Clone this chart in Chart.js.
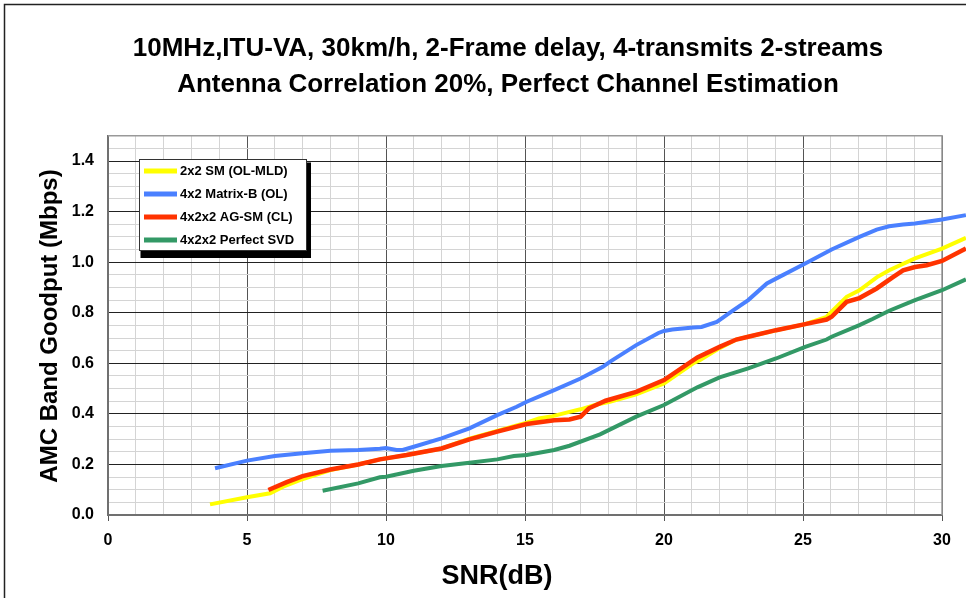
<!DOCTYPE html>
<html>
<head>
<meta charset="utf-8">
<script src="https://cdn.jsdelivr.net/npm/chart.js@4.4.0/dist/chart.umd.min.js"></script>
<style>
  html, body { margin: 0; padding: 0; background: #fff; overflow: hidden; }
  #wrap { width: 1016px; height: 598px; }
</style>
</head>
<body>
<div id="wrap"><canvas id="chart" width="1016" height="598"></canvas></div>
<script>
const FONT = 'Liberation Sans, Arial, Helvetica, sans-serif';

const titleLines = [
  '10MHz,ITU-VA, 30km/h, 2-Frame delay, 4-transmits 2-streams',
  'Antenna Correlation 20%, Perfect Channel Estimation'
];
const xTitle = 'SNR(dB)';
const yTitle = 'AMC Band Goodput (Mbps)';

const seriesNames = ['2x2 SM (OL-MLD)', '4x2 Matrix-B (OL)', '4x2x2 AG-SM (CL)', '4x2x2 Perfect SVD'];
const seriesColors = ['#FFFF00', '#4A80FF', '#FF3300', '#339966'];

// 2x2 SM (OL-MLD)
const snrSM = [3.67, 5.0, 5.83, 6.3, 6.9, 8.0, 9.0, 9.78, 10.0, 10.74, 12.0, 13.0, 14.0, 15.06, 15.5, 16.0, 16.6, 17.0, 17.58, 18.05, 19.0, 20.0, 21.05, 21.3, 22.0, 22.6, 23.03, 24.03, 25.08, 25.85, 26.57, 27.03, 27.65, 28.1, 29.03, 30.0, 30.86];
const gpSM  = [0.042, 0.07, 0.086, 0.112, 0.138, 0.178, 0.2, 0.22, 0.224, 0.237, 0.263, 0.302, 0.333, 0.365, 0.382, 0.391, 0.408, 0.418, 0.437, 0.448, 0.477, 0.52, 0.6, 0.613, 0.66, 0.694, 0.705, 0.731, 0.755, 0.784, 0.863, 0.889, 0.94, 0.968, 1.015, 1.054, 1.096];

// 4x2 Matrix-B (OL)
const snrMB = [3.85, 5.0, 6.0, 7.0, 8.0, 9.0, 9.78, 10.0, 10.38, 10.6, 11.0, 12.0, 13.0, 14.0, 14.7, 15.06, 16.05, 17.0, 17.8, 18.05, 19.0, 19.8, 20.0, 20.3, 21.05, 21.35, 21.9, 22.5, 23.03, 23.7, 24.03, 25.08, 26.03, 27.03, 27.65, 28.1, 28.6, 29.03, 30.0, 30.86];
const gpMB  = [0.185, 0.215, 0.233, 0.244, 0.254, 0.257, 0.262, 0.265, 0.257, 0.257, 0.27, 0.303, 0.343, 0.395, 0.428, 0.448, 0.494, 0.54, 0.586, 0.606, 0.672, 0.72, 0.728, 0.734, 0.742, 0.744, 0.764, 0.81, 0.85, 0.916, 0.935, 0.995, 1.05, 1.1, 1.129, 1.142, 1.149, 1.153, 1.169, 1.186];

// 4x2x2 AG-SM (CL)
const snrAG = [5.77, 6.43, 7.0, 8.0, 9.0, 9.78, 10.0, 10.74, 12.0, 13.0, 14.0, 15.06, 16.05, 16.6, 17.0, 17.3, 17.9, 19.0, 20.0, 21.2, 22.0, 22.6, 23.03, 24.03, 25.08, 25.85, 26.03, 26.57, 27.03, 27.65, 28.25, 28.6, 29.03, 29.45, 30.0, 30.86];
const gpAG  = [0.099, 0.13, 0.154, 0.18, 0.2, 0.22, 0.224, 0.237, 0.263, 0.299, 0.33, 0.36, 0.375, 0.378, 0.389, 0.422, 0.452, 0.487, 0.534, 0.623, 0.665, 0.694, 0.705, 0.731, 0.755, 0.773, 0.784, 0.843, 0.858, 0.896, 0.942, 0.968, 0.981, 0.988, 1.005, 1.054];

// 4x2x2 Perfect SVD
const snrSVD = [7.72, 9.0, 9.78, 10.0, 11.0, 12.0, 13.0, 14.0, 14.6, 15.06, 16.05, 16.6, 17.7, 19.0, 20.0, 21.2, 22.0, 23.03, 24.03, 25.08, 25.85, 26.03, 27.03, 27.5, 28.1, 29.03, 30.0, 30.86];
const gpSVD  = [0.096, 0.125, 0.149, 0.151, 0.175, 0.194, 0.207, 0.22, 0.233, 0.237, 0.257, 0.274, 0.319, 0.389, 0.435, 0.505, 0.544, 0.58, 0.619, 0.665, 0.694, 0.705, 0.751, 0.775, 0.808, 0.85, 0.889, 0.932];

const xTicks = [0, 5, 10, 15, 20, 25, 30];
const yTicks = [0, 0.2, 0.4, 0.6, 0.8, 1.0, 1.2, 1.4];

const isMajor = (list, v) => list.some(t => Math.abs(t - v) < 1e-6);
const toPoints = (xs, ys) => xs.map((x, i) => ({ x: x, y: ys[i] }));

const allX = [snrSM, snrMB, snrAG, snrSVD];
const allY = [gpSM, gpMB, gpAG, gpSVD];
const drawOrder = [2, 1, 0, 1];  // red sits over yellow

const datasets = seriesNames.map((name, i) => ({
  label: name,
  data: toPoints(allX[i], allY[i]),
  borderColor: seriesColors[i],
  backgroundColor: seriesColors[i],
  borderWidth: i === 2 ? 4.5 : 4,
  pointRadius: 0,
  tension: 0,
  clip: false,
  order: drawOrder[i]
}));

// white page + outer frame (chart is cropped on the right and bottom)
const framePlugin = {
  id: 'frame',
  beforeDraw(chart) {
    const ctx = chart.ctx;
    ctx.save();
    ctx.fillStyle = '#fff';
    ctx.fillRect(0, 0, chart.width, chart.height);
    ctx.strokeStyle = '#222';
    ctx.lineWidth = 1.5;
    ctx.strokeRect(4.5, 4.5, chart.width - 9, chart.height + 20);
    ctx.restore();
  }
};

const plotBorder = {
  id: 'plotBorder',
  beforeDatasetsDraw(chart) {
    const { ctx, chartArea: a } = chart;
    ctx.save();
    ctx.strokeStyle = '#999';
    ctx.lineWidth = 1.5;
    ctx.beginPath();
    ctx.moveTo(a.left, a.top);
    ctx.lineTo(a.right, a.top);
    ctx.lineTo(a.right, a.bottom);
    ctx.stroke();
    ctx.restore();
  }
};

const axisTitles = {
  id: 'axisTitles',
  afterDraw(chart) {
    const ctx = chart.ctx;
    ctx.save();
    ctx.fillStyle = '#000';
    ctx.textAlign = 'center';
    ctx.textBaseline = 'middle';
    ctx.font = 'bold 27px ' + FONT;
    ctx.fillText(xTitle, 497, 577);
    ctx.translate(50, 326);
    ctx.rotate(-Math.PI / 2);
    ctx.font = 'bold 24px ' + FONT;
    ctx.fillText(yTitle, 0, 0);
    ctx.restore();
  }
};

const boxLegend = {
  id: 'boxLegend',
  afterDraw(chart) {
    const ctx = chart.ctx;
    const bx = 139.5, by = 159.5, bw = 167, bh = 91;
    ctx.save();
    ctx.fillStyle = '#000';
    ctx.fillRect(bx + 1, by + 3, bw + 3.5, bh + 4.5);
    ctx.fillStyle = '#fff';
    ctx.fillRect(bx, by, bw, bh);
    ctx.strokeStyle = '#333';
    ctx.lineWidth = 1;
    ctx.strokeRect(bx, by, bw, bh);
    ctx.font = 'bold 13px ' + FONT;
    ctx.textBaseline = 'middle';
    chart.data.datasets.forEach((ds, i) => {
      const y = 171 + i * 23;
      ctx.strokeStyle = ds.borderColor;
      ctx.lineWidth = 5;
      ctx.beginPath();
      ctx.moveTo(144, y);
      ctx.lineTo(177, y);
      ctx.stroke();
      ctx.fillStyle = '#000';
      ctx.fillText(ds.label, 180, y + 0.5);
    });
    ctx.restore();
  }
};

new Chart(document.getElementById('chart'), {
  type: 'line',
  data: { datasets: datasets },
  plugins: [framePlugin, plotBorder, axisTitles, boxLegend],
  options: {
    responsive: false,
    animation: false,
    layout: { padding: 0 },
    plugins: {
      legend: { display: false },
      tooltip: { enabled: false },
      title: {
        display: true,
        text: titleLines,
        color: '#000',
        font: { family: FONT, size: 26, weight: 'bold', lineHeight: 1.38 },
        padding: { top: 31, bottom: 33 }
      }
    },
    scales: {
      x: {
        type: 'linear',
        bounds: 'data',
        // bounds set here (not via min/max) so the curves run on past 30 dB like the original
        afterDataLimits: s => { s.min = 0; s.max = 30; },
        afterFit: s => { s.height = 83; },
        afterBuildTicks: s => {
          const t = [];
          for (let v = 0; v <= 30; v++) t.push({ value: v });
          s.ticks = t;
        },
        ticks: {
          autoSkip: false,
          maxRotation: 0,
          padding: 10,
          color: '#000',
          font: { family: FONT, size: 16, weight: 'bold' },
          callback: v => isMajor(xTicks, v) ? String(Math.round(v)) : ''
        },
        grid: {
          color: c => isMajor(xTicks, c.tick.value) ? '#555' : '#d4d4d4',
          tickColor: c => isMajor(xTicks, c.tick.value) ? '#555' : 'rgba(0,0,0,0)',
          tickLength: 6,
          lineWidth: 1
        },
        border: { color: '#707070', width: 2 }
      },
      y: {
        type: 'linear',
        min: 0,
        max: 1.5,
        afterFit: s => { s.width = 108; },
        afterBuildTicks: s => {
          const t = [];
          for (let k = 0; k <= 30; k++) t.push({ value: +(k * 0.05).toFixed(2) });
          s.ticks = t;
        },
        ticks: {
          autoSkip: false,
          padding: 14,
          color: '#000',
          font: { family: FONT, size: 16, weight: 'bold' },
          callback: v => isMajor(yTicks, v) ? v.toFixed(1) : ''
        },
        grid: {
          color: c => isMajor(yTicks, c.tick.value) ? '#222' : '#d4d4d4',
          drawTicks: false,
          lineWidth: 1
        },
        border: { color: '#707070', width: 2 }
      },
      // empty right-hand strip: keeps the plot edge at 30 dB while the title centres on the full chart
      pad: {
        type: 'linear',
        position: 'right',
        afterFit: s => { s.width = 74; },
        ticks: { display: false },
        grid: { display: false },
        border: { display: false }
      }
    }
  }
});
</script>
</body>
</html>
